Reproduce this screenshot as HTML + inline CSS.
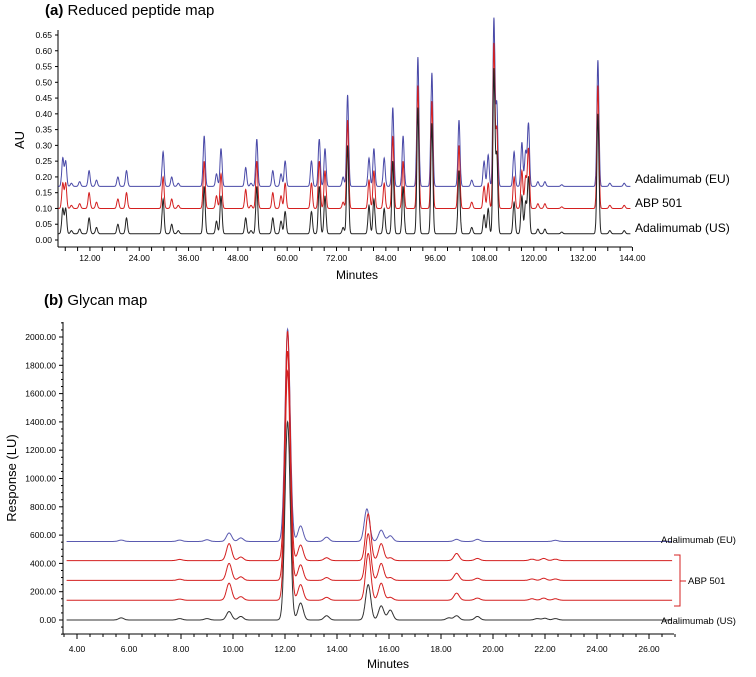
<!DOCTYPE html>
<html><head><meta charset="utf-8"><style>
body{margin:0;background:#fff;width:756px;height:672px;overflow:hidden}
svg{font-family:"Liberation Sans",Arial,sans-serif}
</style></head><body>
<svg id="s" width="756" height="672"></svg>
<script>
// ---- Panel A data ----
const aTimes=[5.4,6.1,7.5,9.5,11.8,13.6,18.8,20.9,29.8,31.9,33.5,39.8,42.8,43.9,49.9,51.2,52.6,56.5,58.5,59.5,65.9,67.8,69.2,73.6,74.7,79.9,81.1,83.6,85.7,88.2,91.8,95.2,101.8,104.9,107.9,108.9,110.3,111,115.2,117.1,118,118.7,121,122.7,126.8,135.6,138.5,142];
const aEU=[0.09,0.08,0.01,0.015,0.05,0.02,0.03,0.05,0.11,0.03,0.01,0.16,0.04,0.12,0.06,0.01,0.15,0.05,0.04,0.08,0.08,0.15,0.12,0.03,0.29,0.09,0.12,0.09,0.25,0.16,0.41,0.36,0.21,0.02,0.08,0.10,0.53,0.26,0.11,0.14,0.11,0.20,0.015,0.015,0.005,0.40,0.01,0.01];
const aABP=[0.08,0.08,0.01,0.015,0.05,0.02,0.03,0.05,0.10,0.03,0.01,0.15,0.04,0.11,0.06,0.01,0.15,0.05,0.04,0.08,0.08,0.15,0.12,0.02,0.28,0.09,0.12,0.08,0.23,0.15,0.39,0.34,0.2,0.02,0.07,0.08,0.52,0.25,0.10,0.12,0.10,0.19,0.015,0.015,0.005,0.39,0.01,0.01];
const aUS=[0.08,0.08,0.01,0.015,0.05,0.02,0.03,0.05,0.11,0.03,0.01,0.15,0.04,0.12,0.05,0.01,0.15,0.05,0.04,0.07,0.07,0.15,0.12,0.02,0.28,0.09,0.11,0.08,0.23,0.15,0.40,0.35,0.2,0.02,0.06,0.08,0.52,0.25,0.10,0.12,0.10,0.18,0.015,0.015,0.005,0.38,0.01,0.01];
const aBase=[0.17,0.10,0.02];
const aYTicks=[0,0.05,0.1,0.15,0.2,0.25,0.3,0.35,0.4,0.45,0.5,0.55,0.6,0.65];
const aXTicks=[12,24,36,48,60,72,84,96,108,120,132,144];
// ---- Panel B data ----
const bTimesEU=[5.7,7.95,9.0,9.85,10.3,12.1,12.6,13.6,15.15,15.7,16.05,18.6,19.4,22.4];
const bEU=[10,10,12,60,25,1500,110,30,230,80,40,15,15,8];
const bTimesABP=[7.95,9.85,10.3,12.1,12.6,13.6,15.2,15.7,16.05,18.6,19.4,21.5,21.95,22.4];
const bABP=[8,120,25,1620,110,20,330,120,20,50,15,10,15,10];
const bTimesUS=[5.7,7.95,9.0,9.85,10.3,12.1,12.6,13.6,15.2,15.7,16.05,18.3,18.6,19.4,21.7,22.0,22.4];
const bUS=[15,10,10,60,25,1400,120,30,250,100,70,15,30,25,10,12,10];
const bBase=[555,420,280,140,0];
const bYTicks=[0,200,400,600,800,1000,1200,1400,1600,1800,2000];
const bXTicks=[4,6,8,10,12,14,16,18,20,22,24,26];

const S=document.getElementById('s');
const NS='http://www.w3.org/2000/svg';
function el(t,a,txt){const e=document.createElementNS(NS,t);for(const k in a)e.setAttribute(k,a[k]);if(txt!==undefined)e.textContent=txt;S.appendChild(e);return e;}

const ax=t=>40.6+4.11*t, ay=v=>240-v*315.4;
const bx=t=>77+26*(t-4), by=v=>620-v*0.1415;

function trace(times,hs,base,sig,t0,t1,step,X,Y,color,name,w){
  let d='';
  for(let t=t0;t<=t1;t+=step){let v=base;for(let i=0;i<times.length;i++){const z=(t-times[i])/sig;v+=hs[i]*Math.exp(-0.5*z*z);}d+=(d?'L':'M')+X(t).toFixed(1)+','+Y(v).toFixed(1);}
  const p=el('path',{d:d,fill:'none',stroke:color,'stroke-width':w});
  
  
}

// ---- Panel A ----
let t=el('text',{x:45,y:15,'font-size':15},'');t.innerHTML='<tspan font-weight="bold">(a)</tspan> Reduced peptide map';

el('line',{x1:58,y1:30,x2:58,y2:247,stroke:'#000','stroke-width':1,});
el('line',{x1:58,y1:247,x2:632,y2:247,stroke:'#000','stroke-width':1,});
aYTicks.forEach(v=>{el('line',{x1:55,y1:ay(v),x2:58,y2:ay(v),stroke:'#000'});
 const tx=el('text',{x:52,y:ay(v)+3,'font-size':8.5,'text-anchor':'end'},v.toFixed(2));
 });
for(let m=6;m<=144;m+=3){el('line',{x1:ax(m),y1:247,x2:ax(m),y2:251,stroke:'#000'});}
aXTicks.forEach(m=>{const tx=el('text',{x:ax(m),y:261,'font-size':8.5,'text-anchor':'middle'},m.toFixed(2));
 });
el('text',{x:357,y:279,'font-size':12,'text-anchor':'middle',},'Minutes');
el('text',{x:0,y:0,'font-size':13,'text-anchor':'middle',transform:'translate(24,140) rotate(-90)',},'AU');
trace(aTimes,aEU,aBase[0],0.25,4.3,143.5,0.05,ax,ay,'#4a4aa8','a-trace-eu',1);
trace(aTimes,aABP,aBase[1],0.25,4.3,143.5,0.05,ax,ay,'#d42020','a-trace-abp501',1);
trace(aTimes,aUS,aBase[2],0.25,4.3,143.5,0.05,ax,ay,'#222','a-trace-us',1);
el('text',{x:635,y:183,'font-size':12,},'Adalimumab (EU)');
el('text',{x:635,y:207,'font-size':12,},'ABP 501');
el('text',{x:635,y:232,'font-size':12,},'Adalimumab (US)');

// ---- Panel B ----
t=el('text',{x:44,y:305,'font-size':15},'');t.innerHTML='<tspan font-weight="bold">(b)</tspan> Glycan map';

el('line',{x1:63,y1:322,x2:63,y2:634,stroke:'#000',});
el('line',{x1:63,y1:634,x2:674,y2:634,stroke:'#000',});
for(let v=-100;v<=2100;v+=50){el('line',{x1:v%200===0?59:61,y1:by(v),x2:63,y2:by(v),stroke:'#000'});}
bYTicks.forEach(v=>{const tx=el('text',{x:56,y:by(v)+3,'font-size':8.5,'text-anchor':'end'},v.toFixed(2));
 });
for(let m=3.5;m<=27;m+=0.5){el('line',{x1:bx(m),y1:634,x2:bx(m),y2:m%2===0?639:637,stroke:'#000'});}
bXTicks.forEach(m=>{const tx=el('text',{x:bx(m),y:652,'font-size':8.5,'text-anchor':'middle'},m.toFixed(2));
 });
el('text',{x:388,y:668,'font-size':12,'text-anchor':'middle',},'Minutes');
el('text',{x:0,y:0,'font-size':13,'text-anchor':'middle',transform:'translate(16,478) rotate(-90)',},'Response (LU)');
trace(bTimesEU,bEU,bBase[0],0.1,3.6,26.9,0.01,bx,by,'#5a5ab0','b-trace-eu',1);
trace(bTimesABP,bABP,bBase[1],0.1,3.6,26.9,0.01,bx,by,'#d42020','b-trace-abp501-1',1);
trace(bTimesABP,bABP,bBase[2],0.1,3.6,26.9,0.01,bx,by,'#d42020','b-trace-abp501-2',1);
trace(bTimesABP,bABP,bBase[3],0.1,3.6,26.9,0.01,bx,by,'#d42020','b-trace-abp501-3',1);
trace(bTimesUS,bUS,bBase[4],0.1,3.6,26.9,0.01,bx,by,'#333','b-trace-us',1);
el('text',{x:661,y:543,'font-size':9.5,},'Adalimumab (EU)');
el('path',{d:'M674,555 H680 V606 H674 M680,581 H686',fill:'none',stroke:'#d42020','stroke-width':1,});
el('text',{x:688,y:584,'font-size':9.5,},'ABP 501');
el('text',{x:661,y:624,'font-size':9.5,},'Adalimumab (US)');
</script>
</body></html>
